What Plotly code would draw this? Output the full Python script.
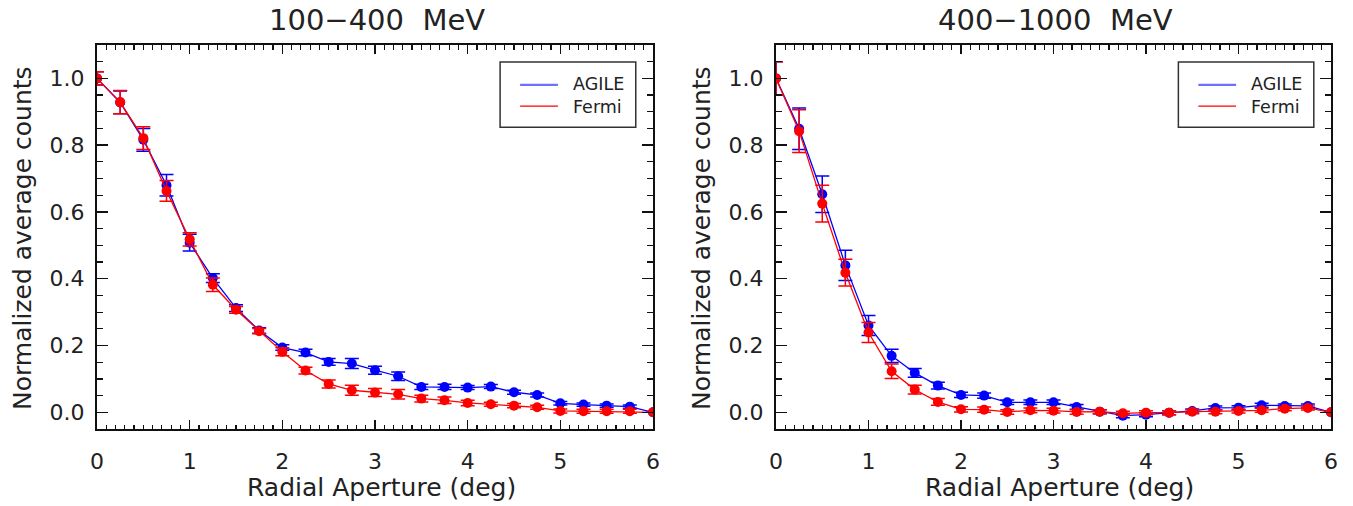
import plotly.graph_objects as go

# ---------------- data ----------------
radius = [0, 0.25, 0.5, 0.75, 1.0, 1.25, 1.5, 1.75, 2.0, 2.25, 2.5, 2.75, 3.0,
          3.25, 3.5, 3.75, 4.0, 4.25, 4.5, 4.75, 5.0, 5.25, 5.5, 5.75, 6.0]

# 100-400 MeV
agile_low = [1.0, 0.928, 0.816, 0.680, 0.508, 0.402, 0.312, 0.245, 0.194, 0.179,
             0.151, 0.146, 0.126, 0.108, 0.076, 0.076, 0.074, 0.077, 0.060, 0.052,
             0.027, 0.023, 0.020, 0.017, 0.0]
agile_low_err = [0.020, 0.034, 0.034, 0.032, 0.025, 0.013, 0.010, 0.008, 0.008, 0.010,
                 0.010, 0.015, 0.012, 0.013, 0.008, 0.008, 0.006, 0.006, 0.006, 0.006,
                 0.005, 0.005, 0.005, 0.005, 0.0]
fermi_low = [1.0, 0.929, 0.821, 0.663, 0.518, 0.382, 0.307, 0.243, 0.181, 0.125,
             0.085, 0.066, 0.059, 0.054, 0.041, 0.036, 0.028, 0.024, 0.020, 0.015,
             0.004, 0.003, 0.003, 0.003, 0.0]
fermi_low_err = [0.020, 0.035, 0.034, 0.031, 0.020, 0.020, 0.010, 0.008, 0.012, 0.010,
                 0.012, 0.015, 0.012, 0.014, 0.010, 0.010, 0.008, 0.006, 0.006, 0.006,
                 0.006, 0.006, 0.006, 0.006, 0.0]

# 400-1000 MeV
agile_high = [1.0, 0.849, 0.653, 0.440, 0.260, 0.169, 0.118, 0.080, 0.052, 0.050,
              0.030, 0.030, 0.030, 0.016, 0.002, -0.010, -0.007, -0.001, 0.004, 0.013,
              0.014, 0.021, 0.019, 0.019, 0.0]
agile_high_err = [0.050, 0.062, 0.055, 0.045, 0.030, 0.020, 0.013, 0.010, 0.008, 0.008,
                  0.007, 0.007, 0.007, 0.007, 0.006, 0.006, 0.006, 0.006, 0.006, 0.006,
                  0.006, 0.006, 0.006, 0.006, 0.0]
fermi_high = [1.0, 0.842, 0.625, 0.418, 0.239, 0.123, 0.068, 0.031, 0.009, 0.008,
              0.001, 0.006, 0.005, 0.001, 0.002, -0.003, -0.001, -0.001, 0.002, 0.002,
              0.004, 0.006, 0.011, 0.013, 0.0]
fermi_high_err = [0.050, 0.064, 0.055, 0.040, 0.030, 0.022, 0.013, 0.010, 0.008, 0.008,
                  0.007, 0.007, 0.007, 0.007, 0.006, 0.006, 0.006, 0.006, 0.006, 0.006,
                  0.006, 0.006, 0.006, 0.006, 0.0]

panel_titles = ["100\u2212400  MeV", "400\u22121000  MeV"]
series_names = ["AGILE", "Fermi"]
x_title = "Radial Aperture (deg)"
y_title = "Normalized average counts"

BLUE = "#0000ff"
RED = "#ff0000"
FONT = "DejaVu Sans"
TXT = "#222222"

W, H = 1353, 506
# plot frames in pixels
px_left = [(97, 653), (776, 1331)]
py_top, py_bot = 45, 429

fig = go.Figure()

panels = [
    (agile_low, agile_low_err, fermi_low, fermi_low_err),
    (agile_high, agile_high_err, fermi_high, fermi_high_err),
]

for i, (ay, ae, fy, fe) in enumerate(panels):
    xa = "x" if i == 0 else "x2"
    ya = "y" if i == 0 else "y2"
    for yv, ev, col in ((ay, ae, BLUE), (fy, fe, RED)):
        fig.add_trace(go.Scatter(
            x=radius, y=yv, mode="lines+markers",
            line=dict(color=col, width=1.3),
            marker=dict(color=col, size=10),
            error_y=dict(type="data", array=ev, visible=True, color=col,
                         thickness=1.5, width=7),
            xaxis=xa, yaxis=ya, showlegend=False,
        ))

axis_common = dict(
    showline=True, linewidth=2, linecolor="#111111", mirror="ticks",
    ticks="inside", tickcolor="#111111", tickwidth=1.5,
    showgrid=False, zeroline=False, automargin=False,
    tickfont=dict(family=FONT, size=22, color=TXT),
)

for i, (x0, x1) in enumerate(px_left):
    sfx = "" if i == 0 else "2"
    fig.layout["xaxis" + sfx] = dict(
        axis_common, domain=[x0 / W, x1 / W], range=[0, 6],
        tick0=0, dtick=1, ticklen=9, ticklabelstandoff=12,
        minor=dict(dtick=0.1, ticks="inside", ticklen=4.5, tickcolor="#111111", tickwidth=1.2),
        anchor="y" + sfx,
    )
    fig.layout["yaxis" + sfx] = dict(
        axis_common, domain=[(H - py_bot) / H, (H - py_top) / H], range=[-0.05, 1.1],
        tick0=0, dtick=0.2, tickformat=".1f", ticklen=11, ticklabelstandoff=6,
        minor=dict(dtick=0.05, ticks="inside", ticklen=6, tickcolor="#111111", tickwidth=1.2),
        anchor="x" + sfx,
    )

annotations = []
shapes = []
for i, (x0, x1) in enumerate(px_left):
    cx = (x0 + x1) / 2
    annotations.append(dict(text=panel_titles[i], x=(cx + 2) / W, y=(H - 20) / H,
                            xref="paper", yref="paper", showarrow=False,
                            font=dict(family=FONT, size=29, color=TXT),
                            xanchor="center", yanchor="middle"))
    annotations.append(dict(text=x_title, x=(cx + 6) / W, y=(H - 487) / H,
                            xref="paper", yref="paper", showarrow=False,
                            font=dict(family=FONT, size=25, color=TXT),
                            xanchor="center", yanchor="middle"))
    annotations.append(dict(text=y_title, x=(x0 - 74) / W, y=(H - 238) / H,
                            xref="paper", yref="paper", showarrow=False, textangle=-90,
                            font=dict(family=FONT, size=25, color=TXT),
                            xanchor="center", yanchor="middle"))
    # legend box
    sfx = "" if i == 0 else "2"
    xr = "x" + sfx + " domain"
    yr = "y" + sfx + " domain"
    shapes.append(dict(type="rect", xref=xr, yref=yr, x0=0.725, x1=0.969,
                       y0=0.786, y1=0.956, line=dict(color="#333333", width=1.5),
                       fillcolor="white"))
    for col, yy, lw in (("#6f6fff", 0.896, 2.2), (RED, 0.841, 1.3)):
        shapes.append(dict(type="line", xref=xr, yref=yr, x0=0.761, x1=0.829,
                           y0=yy, y1=yy, line=dict(color=col, width=lw)))
    annotations.append(dict(text="<br>".join(series_names), xref=xr, yref=yr,
                            x=0.853, y=(0.896 + 0.841) / 2,
                            showarrow=False, xanchor="left", yanchor="middle", align="left",
                            font=dict(family=FONT, size=17.5, color=TXT)))

fig.update_layout(
    width=W, height=H, margin=dict(l=0, r=0, t=0, b=0),
    paper_bgcolor="white", plot_bgcolor="white",
    annotations=annotations, shapes=shapes, showlegend=False,
)

fig.write_html("out.html",
               config={"displayModeBar": False, "staticPlot": True},
               post_script="document.body.style.margin='0';document.body.style.overflow='hidden';")
